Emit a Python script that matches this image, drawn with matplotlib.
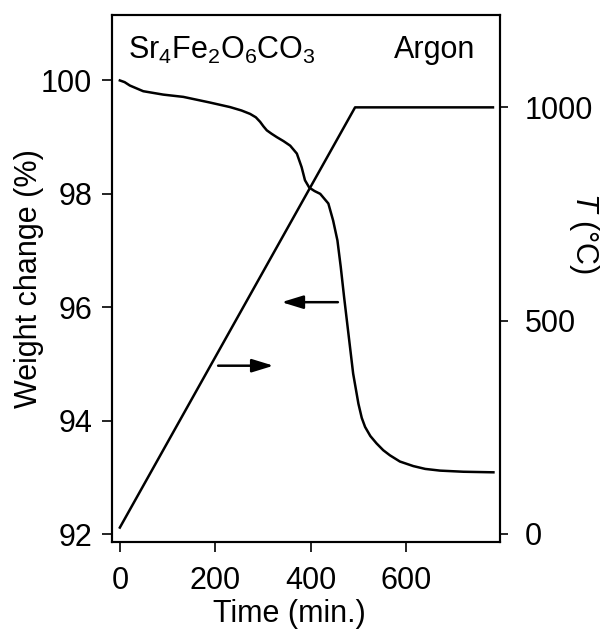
import matplotlib
matplotlib.use("Agg")
import matplotlib.pyplot as plt

plt.rcParams['font.family'] = ['Liberation Sans', 'DejaVu Sans']
plt.rcParams['mathtext.fontset'] = 'custom'
plt.rcParams['mathtext.rm'] = 'Liberation Sans'
plt.rcParams['mathtext.it'] = 'Liberation Sans:italic'

# Weight change (%) vs time (min)
time_w = [0, 10, 21, 49, 70, 91, 133, 189, 231, 255, 273, 285, 294, 301, 308, 318,
          329, 343, 357, 371, 381, 388, 397, 408, 420, 437, 447, 456, 463, 470, 479,
          489, 500, 507, 514, 525, 538, 552, 566, 587, 615, 640, 671, 720, 783]
weight = [100.0, 99.97, 99.91, 99.81, 99.78, 99.75, 99.71, 99.61, 99.53, 99.47,
          99.41, 99.35, 99.27, 99.19, 99.12, 99.06, 99.0, 98.93, 98.85, 98.71, 98.47,
          98.24, 98.11, 98.05, 98.0, 97.83, 97.53, 97.18, 96.71, 96.18, 95.54, 94.83,
          94.30, 94.05, 93.89, 93.73, 93.60, 93.48, 93.39, 93.28, 93.2, 93.15, 93.12,
          93.10, 93.09]

# Temperature program
time_T = [0, 493, 782]
temp = [15, 1000, 1000]

x_ticks = [0, 200, 400, 600]
w_ticks = [92, 94, 96, 98, 100]
T_ticks = [0, 500, 1000]

fs = 22
fig = plt.figure(figsize=(6.04, 6.34), dpi=100)
ax1 = fig.add_axes([0.185, 0.145, 0.643, 0.831])
ax2 = ax1.twinx()

ax1.plot(time_w, weight, color='black', lw=1.8, solid_joinstyle='round')
ax2.plot(time_T, temp, color='black', lw=1.8)

ax1.set_xlim(-17, 797)
ax1.set_ylim(91.86, 101.15)
ax2.set_ylim(-19, 1216)

ax1.set_xticks(x_ticks)
ax1.set_yticks(w_ticks)
ax2.set_yticks(T_ticks)

for ax in (ax1, ax2):
    for s in ax.spines.values():
        s.set_linewidth(1.5)

ax1.tick_params(axis='x', direction='out', length=7, width=1.2, pad=10, labelsize=fs)
ax1.tick_params(axis='y', direction='out', length=7, width=1.2, pad=7, labelsize=fs)
ax2.tick_params(axis='y', direction='out', length=6, width=1.2, pad=12, labelsize=fs)

ax1.set_xlabel('Time (min.)', fontsize=fs)
ax1.xaxis.set_label_coords(0.458, -0.152)
ax1.xaxis.label.set_va('baseline')
ax1.set_ylabel('Weight change (%)', fontsize=fs)
ax1.yaxis.label.set_va('center')
ax1.yaxis.set_label_coords(-0.213, 0.501)
ax2.set_ylabel(r'$T$ (°C)', fontsize=fs, rotation=270)
ax2.yaxis.label.set_va('center')
ax2.yaxis.set_label_coords(1.216, 0.586)

ax1.text(0.042, 0.918, r'Sr$_\mathregular{4}$Fe$_\mathregular{2}$O$_\mathregular{6}$CO$_\mathregular{3}$',
         transform=ax1.transAxes, fontsize=fs, ha='left', va='baseline')
ax1.text(0.936, 0.918, 'Argon', transform=ax1.transAxes, fontsize=fs,
         ha='right', va='baseline')

arrow_kw = dict(arrowstyle='-|>,head_length=0.65,head_width=0.2', color='black',
                lw=1.8, shrinkA=0, shrinkB=0, mutation_scale=20)
ax1.annotate('', xy=(339, 96.09), xytext=(457, 96.09), arrowprops=arrow_kw)
ax1.annotate('', xy=(322, 94.97), xytext=(206, 94.97), arrowprops=arrow_kw)

fig.savefig('out.png', dpi=100)
